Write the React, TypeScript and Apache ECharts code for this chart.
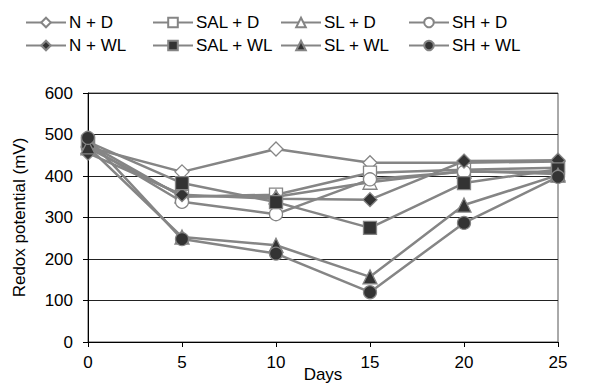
import React, { useEffect, useRef } from "react";
import * as echarts from "echarts";

const days = [0, 5, 10, 15, 20, 25];
const seriesNames = ["N + D", "SAL + D", "SL + D", "SH + D", "N + WL", "SAL + WL", "SL + WL", "SH + WL"];
const nD = [470, 410, 465, 432, 432, 435];
const salD = [478, 350, 355, 408, 415, 420];
const slD = [468, 352, 350, 385, 412, 405];
const shD = [473, 338, 308, 392, 410, 410];
const nWL = [455, 355, 345, 343, 436, 438];
const salWL = [482, 383, 337, 275, 383, 416];
const slWL = [470, 253, 233, 157, 330, 402];
const shWL = [492, 248, 213, 120, 287, 398];

const seriesValues = [nD, salD, slD, shD, nWL, salWL, slWL, shWL];
const symbols = ["diamond", "rect", "triangle", "circle", "diamond", "rect", "triangle", "circle"];
const symbolSizes = [14, 13, 14, 13, 14, 13, 14, 13];

export default function App() {
  const ref = useRef<HTMLDivElement>(null);
  useEffect(() => {
    document.body.style.margin = "0";
    if (!ref.current) return;
    const chart = echarts.init(ref.current, undefined, { renderer: "svg" });
    const font = "'Liberation Sans', Arial, sans-serif";
    const fs = 17;
    const colLeft = [25, 152, 280, 408];
    const legends = seriesNames.map((name, i) => ({
      data: [name],
      left: colLeft[i % 4],
      top: i < 4 ? 14 : 37,
      padding: 0,
      itemWidth: 40,
      itemHeight: 12,
      itemGap: 0,
      textStyle: { fontFamily: font, fontSize: fs, color: "#000", padding: [0, 0, 0, -2] },
    }));
    chart.setOption({
      animation: false,
      backgroundColor: "#fff",
      legend: legends,
      grid: {
        left: 88,
        right: 32,
        top: 93,
        bottom: 48,
        containLabel: false,
        outerBoundsMode: "none",
        show: true,
        borderColor: "#555",
        borderWidth: 1,
      },
      xAxis: {
        type: "value",
        min: 0,
        max: 25,
        interval: 5,
        name: "Days",
        nameLocation: "middle",
        nameGap: 24,
        nameMoveOverlap: false,
        nameTextStyle: { fontFamily: font, fontSize: fs, color: "#000" },
        axisLine: { lineStyle: { color: "#000", width: 1 } },
        axisTick: { show: true, length: 5, lineStyle: { color: "#000" } },
        axisLabel: { fontFamily: font, fontSize: fs, color: "#000", margin: 12 },
        splitLine: { show: false },
      },
      yAxis: {
        type: "value",
        min: 0,
        max: 600,
        interval: 100,
        name: "Redox potential (mV)",
        nameLocation: "middle",
        nameGap: 60,
        nameMoveOverlap: false,
        nameTextStyle: { fontFamily: font, fontSize: fs, color: "#000" },
        axisLine: { show: true, lineStyle: { color: "#000", width: 1 } },
        axisTick: { show: true, length: 5, lineStyle: { color: "#000" } },
        axisLabel: { fontFamily: font, fontSize: fs, color: "#000", margin: 15 },
        splitLine: { show: true, lineStyle: { color: "#222", width: 1 } },
      },
      series: seriesNames.map((name, i) => ({
        name,
        type: "line",
        data: days.map((d, j) => [d, seriesValues[i][j]]),
        symbol: symbols[i],
        symbolSize: symbolSizes[i],
        showAllSymbol: true,
        lineStyle: { color: "#858585", width: 2.5 },
        itemStyle: {
          color: i < 4 ? "#ffffff" : "#333333",
          borderColor: "#858585",
          borderWidth: 1.3,
        },
        z: 2 + i,
      })),
    });
    return () => chart.dispose();
  }, []);
  return <div ref={ref} style={{ width: 590, height: 390 }} />;
}
